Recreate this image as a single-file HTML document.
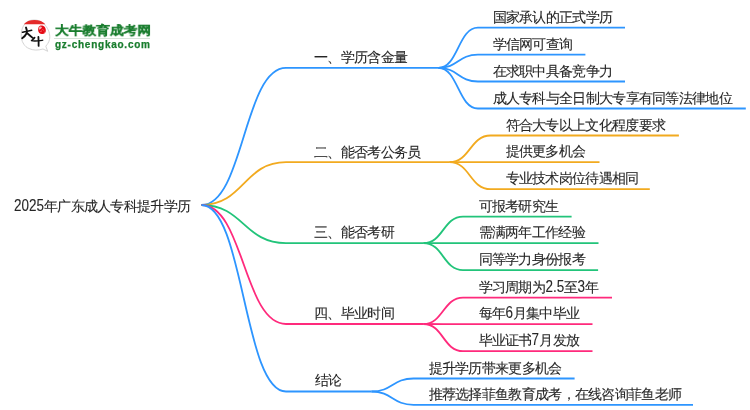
<!DOCTYPE html>
<html><head><meta charset="utf-8"><style>
html,body{margin:0;padding:0;background:#fff;width:750px;height:410px;overflow:hidden;position:relative}
svg{position:absolute;left:0;top:0}
svg.lines path{fill:none;stroke-width:1.8;stroke-linecap:butt}
.t{position:absolute;white-space:nowrap;font-family:"Liberation Sans",sans-serif;color:#262626;-webkit-text-stroke:0.1px #262626;font-size:14px;line-height:16px;letter-spacing:-0.7px;will-change:transform}
.c{transform:translate(-1.5px,-19.5px)}
.m{transform:translate(0px,-19px)}
.d{display:inline-block;font-size:16px;letter-spacing:0;line-height:16px;transform-origin:0 0;vertical-align:baseline}
.root{left:14px;top:197.5px;font-size:14px}
.logo1{position:absolute;left:54.5px;top:23.5px;font-family:"Liberation Sans",sans-serif;font-weight:700;color:#197d2e;font-size:13.6px;-webkit-text-stroke:0.3px #197d2e;line-height:16px;white-space:nowrap;transform-origin:0 0;transform:scale(0.98,0.88);will-change:transform}
.logo2{position:absolute;left:55px;top:39px;font-family:"Liberation Sans",sans-serif;font-weight:bold;color:#197d2e;font-size:10px;line-height:12px;letter-spacing:0.75px;-webkit-text-stroke:0.25px #197d2e;white-space:nowrap;will-change:transform}
.sep{position:absolute;left:54px;top:38px;width:96px;height:1px;background:#d5e3d8}
</style></head><body>
<svg class="lines" width="750" height="410" viewBox="0 0 750 410">
<path d="M201.5 205 C243.75 205 243.75 67.9 286 67.9 L438.4 67.9" stroke="#2d95ff"/>
<path d="M438.4 67.9 C458.15 67.9 458.15 27.7 477.9 27.7 L625 27.7" stroke="#2d95ff"/>
<path d="M438.4 67.9 C458.15 67.9 458.15 54.7 477.9 54.7 L585.4 54.7" stroke="#2d95ff"/>
<path d="M438.4 67.9 C458.15 67.9 458.15 81.5 477.9 81.5 L625 81.5" stroke="#2d95ff"/>
<path d="M438.4 67.9 C458.15 67.9 458.15 108.5 477.9 108.5 L745.8 108.5" stroke="#2d95ff"/>
<path d="M201.5 205 C243.75 205 243.75 162.2 286 162.2 L449.5 162.2" stroke="#f2aa1f"/>
<path d="M449.5 162.2 C470.0 162.2 470.0 135.5 490.5 135.5 L678.9 135.5" stroke="#f2aa1f"/>
<path d="M449.5 162.2 C470.0 162.2 470.0 162.2 490.5 162.2 L599.5 162.2" stroke="#f2aa1f"/>
<path d="M449.5 162.2 C470.0 162.2 470.0 189.2 490.5 189.2 L649.8 189.2" stroke="#f2aa1f"/>
<path d="M201.5 205 C243.75 205 243.75 243.1 286 243.1 L423.5 243.1" stroke="#22c47a"/>
<path d="M423.5 243.1 C443.25 243.1 443.25 216.6 463.0 216.6 L571.6 216.6" stroke="#22c47a"/>
<path d="M423.5 243.1 C443.25 243.1 443.25 243.2 463.0 243.2 L598.5 243.2" stroke="#22c47a"/>
<path d="M423.5 243.1 C443.25 243.1 443.25 270.1 463.0 270.1 L598.1 270.1" stroke="#22c47a"/>
<path d="M201.5 205 C243.75 205 243.75 324.0 286 324.0 L423.5 324.0" stroke="#ff2a7c"/>
<path d="M423.5 324.0 C443.25 324.0 443.25 297.6 463.0 297.6 L612 297.6" stroke="#ff2a7c"/>
<path d="M423.5 324.0 C443.25 324.0 443.25 324.2 463.0 324.2 L592.5 324.2" stroke="#ff2a7c"/>
<path d="M423.5 324.0 C443.25 324.0 443.25 351.2 463.0 351.2 L592.5 351.2" stroke="#ff2a7c"/>
<path d="M201.5 205 C243.75 205 243.75 391.5 286 391.5 L371.5 391.5" stroke="#2d95ff"/>
<path d="M371.5 391.5 C392.5 391.5 392.5 378.5 413.5 378.5 L574.6 378.5" stroke="#2d95ff"/>
<path d="M371.5 391.5 C392.5 391.5 392.5 404.8 413.5 404.8 L693 404.8" stroke="#2d95ff"/>
</svg>
<div class="t root"><span class="d" style="margin-right:-5.69px;transform:scaleX(0.84)">2025</span>年广东成人专科提升学历</div>
<div class="t m" style="left:314px;top:67.9px">一、学历含金量</div>
<div class="t c" style="left:494px;top:27.7px">国家承认的正式学历</div>
<div class="t c" style="left:494px;top:54.7px">学信网可查询</div>
<div class="t c" style="left:494px;top:81.5px">在求职中具备竞争力</div>
<div class="t c" style="left:494px;top:108.5px">成人专科与全日制大专享有同等法律地位</div>
<div class="t m" style="left:314.2px;top:162.7px">二、能否考公务员</div>
<div class="t c" style="left:506.5px;top:135.5px">符合大专以上文化程度要求</div>
<div class="t c" style="left:506.5px;top:162.2px">提供更多机会</div>
<div class="t c" style="left:506.5px;top:189.2px">专业技术岗位待遇相同</div>
<div class="t m" style="left:314.4px;top:243.1px">三、能否考研</div>
<div class="t c" style="left:480.2px;top:216.6px">可报考研究生</div>
<div class="t c" style="left:480.2px;top:243.2px">需满两年工作经验</div>
<div class="t c" style="left:480.2px;top:270.1px">同等学力身份报考</div>
<div class="t m" style="left:313.8px;top:324.0px">四、毕业时间</div>
<div class="t c" style="left:480.2px;top:297.6px">学习周期为<span class="d" style="margin-right:-3.56px;transform:scaleX(0.84)">2.5</span>至<span class="d" style="margin-right:-1.42px;transform:scaleX(0.84)">3</span>年</div>
<div class="t c" style="left:480.2px;top:324.2px">每年<span class="d" style="margin-right:-1.42px;transform:scaleX(0.84)">6</span>月集中毕业</div>
<div class="t c" style="left:480.2px;top:351.2px">毕业证书<span class="d" style="margin-right:-1.42px;transform:scaleX(0.84)">7</span>月发放</div>
<div class="t m" style="left:315.3px;top:391.0px">结论</div>
<div class="t c" style="left:430.3px;top:378.5px">提升学历带来更多机会</div>
<div class="t c" style="left:430.3px;top:404.8px">推荐选择菲鱼教育成考，在线咨询菲鱼老师</div>
<div class="logo1">大牛教育成考网</div>
<div class="sep"></div>
<div class="logo2">gz-chengkao.com</div>
<svg width="750" height="60" viewBox="0 0 750 60" style="position:absolute;left:0;top:0">
<path d="M23.8 44.2 C21.5 41 21 37 21.3 33.5 C21.8 27 25 22 30 20.5 C36 19 42 20.5 46.3 26.7 C49.5 31 50.3 36 49.5 39.5 C48.8 42.5 47.2 44.5 45.8 46.2 L47.7 51.3 L43 49 C38 50.5 33 50.5 29 48.5 C26.5 47.5 25 46 23.8 44.2" fill="none" stroke="#cfcfcf" stroke-width="0.9"/>
<path d="M23.8 24.3 C26 21.5 30 20 34.5 20 C39 20 43 21.5 45.4 24.3 Z" fill="#e42a2a"/>
<path d="M38.5 27.5 C39 25.8 41 25.3 43 25.8 C45 26.5 46 28.5 45.8 31 C45.6 33 44.2 34.2 42 34 C39.8 33.8 38.2 32.5 38.2 30.5 C38.1 29.5 38.2 28.5 38.5 27.5 Z" fill="#e60a14"/>
<path d="M39.2 27 C40.2 26.3 41.5 26.5 42 27.3 C41.5 28.3 40.5 29.5 39.3 29.8 C38.9 29 38.9 27.8 39.2 27 Z" fill="#f7b5b8"/>
<path d="M42.8 29.5 l0.8 0.9 M40.5 31.5 l1.2 -0.5 M44 32 l0.6 0.3" stroke="#fbd0d2" stroke-width="0.7" fill="none"/>
<path d="M22.5 32.3 C25.5 31.6 28.8 30.8 31.7 30.3" stroke="#111" stroke-width="1.5" fill="none" stroke-linecap="round"/>
<path d="M26 27.5 C27 29.5 27.2 31.5 26.5 33.5 C25.5 35.5 24 37 22.2 38.2" stroke="#111" stroke-width="1.9" fill="none" stroke-linecap="round"/>
<path d="M27 33 C29 34.8 31.5 37 33.6 38.6 L34.6 37.6" stroke="#111" stroke-width="1.7" fill="none" stroke-linecap="round" stroke-linejoin="round"/>
<path d="M33.8 38.8 L31.4 40.6 C34.5 41.6 39 40.8 42.8 40.2" stroke="#111" stroke-width="1.3" fill="none" stroke-linecap="round" stroke-linejoin="round"/>
<path d="M38.4 37 C38.6 40 38.7 43 38.6 45.9" stroke="#111" stroke-width="1.8" fill="none" stroke-linecap="round"/>
</svg>
</body></html>
